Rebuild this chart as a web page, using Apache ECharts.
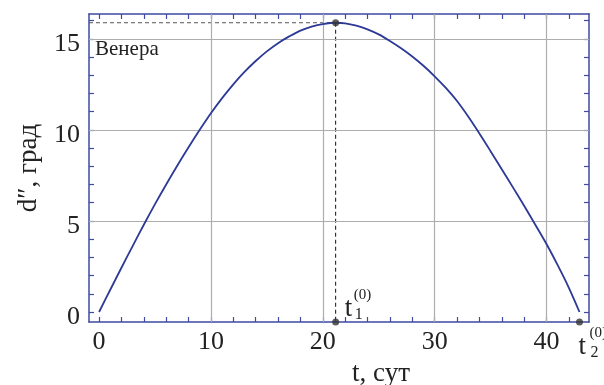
<!DOCTYPE html>
<html><head><meta charset="utf-8">
<script src="https://cdn.jsdelivr.net/npm/echarts@6/dist/echarts.min.js"></script>
<style>html,body{margin:0;padding:0;background:#fff}#c{width:604px;height:385px}</style>
</head><body><div id="c"></div>
<script>
// ---- data ----
const tDays = [0,1,2,3,4,5,6,7,8,9,10,11,12,13,14,15,16,17,18,19,20,21.15,22,23,24,25,26,27,28,29,30,31,32,33,34,35,36,37,38,39,40,41,42,42.95];
const dDeg  = [0,1.22,2.43,3.62,4.79,5.92,7.0,8.04,9.04,10.0,10.91,11.74,12.5,13.18,13.78,14.31,14.76,15.13,15.45,15.67,15.81,15.88,15.85,15.72,15.52,15.24,14.88,14.48,14.03,13.52,12.94,12.3,11.58,10.73,9.8,8.83,7.84,6.84,5.83,4.79,3.73,2.57,1.33,0];
const t1 = 21.15, dMax = 15.88, t2 = 42.95;
const xTickLabels = [0,10,20,30,40];
const xMinorTicks = [0,2,4,6,8,10,12,14,16,18,20,22,24,26,28,30,32,34,36,38,40,42];
const yTickLabels = [0,5,10,15];
const yMinorTicks = [0,1,2,3,4,5,6,7,8,9,10,11,12,13,14,15,16];
const xGridVals = [10,20,30,40];
const yGridVals = [5,10,15];
const xRange = [-0.9, 43.8];
const yRange = [-0.55, 16.36];
const seriesName = 'Венера';
const xName = 't, сут';
const yName = 'd\u2033, град';

// ---- chart ----
const FONT = '"Liberation Serif", "DejaVu Serif", serif';
const AXIS_BLUE = '#3e4aa3';
const CURVE = '#2c3996';
const GRID = '#adadad';
const chart = echarts.init(document.getElementById('c'), null, {renderer:'canvas'});

function xAxisDef(pos, show) {
  return {
    type:'value', position:pos, min:xRange[0], max:xRange[1],
    name: show ? xName : '', nameLocation:'middle', nameGap:38,
    nameTextStyle:{fontFamily:FONT, fontSize:27, color:'#222', padding:[0,0,0,84]},
    axisLine:{show:true, onZero:false, lineStyle:{color:AXIS_BLUE, width:1.5}},
    axisTick:{show:true, inside:true, length:5, customValues:xMinorTicks, lineStyle:{color:AXIS_BLUE, width:1.2}},
    axisLabel:{show:show, customValues:xTickLabels, margin:7, fontFamily:FONT, fontSize:26, color:'#222'},
    splitLine:{show:false}
  };
}
function yAxisDef(pos, show) {
  return {
    type:'value', position:pos, min:yRange[0], max:yRange[1],
    name: show ? yName : '', nameLocation:'middle', nameGap:47, nameRotate:90,
    nameTextStyle:{fontFamily:FONT, fontSize:27, color:'#222'},
    axisLine:{show:true, onZero:false, lineStyle:{color:AXIS_BLUE, width:1.5}},
    axisTick:{show:true, inside:true, length:5, customValues:yMinorTicks, lineStyle:{color:AXIS_BLUE, width:1.2}},
    axisLabel:{show:show, customValues:yTickLabels, margin:9, fontFamily:FONT, fontSize:26, color:'#222', verticalAlign:'top', lineHeight:10},
    splitLine:{show:false}
  };
}

const gridLines = xGridVals.map(v => ({xAxis:v})).concat(yGridVals.map(v => ({yAxis:v})));

chart.setOption({
  animation:false,
  backgroundColor:'#fff',
  grid:{left:89, top:14, right:15, bottom:63, containLabel:false, outerBoundsMode:'none'},
  xAxis:[xAxisDef('bottom', true), xAxisDef('top', false)],
  yAxis:[yAxisDef('left', true), yAxisDef('right', false)],
  series:[
    {
      type:'line', name:'grid', data:[], silent:true,
      markLine:{silent:true, symbol:['none','none'], label:{show:false},
        lineStyle:{color:GRID, width:1.2, type:'solid'}, data:gridLines, animation:false},
      z:1
    },
    {
      type:'line', name:seriesName, data:tDays.map((t,i)=>[t,dDeg[i]]),
      showSymbol:false, smooth:0.35, lineStyle:{color:CURVE, width:1.8}, z:5
    },
    {
      type:'line', data:[[xRange[0],dMax],[t1,dMax]], showSymbol:false,
      lineStyle:{color:'#555', width:1, type:[4,3]}, z:4
    },
    {
      type:'line', data:[[t1,dMax],[t1,yRange[0]]], showSymbol:false,
      lineStyle:{color:'#111', width:1, type:[4,3]}, z:4
    },
    {
      type:'scatter', data:[[t1,dMax],[t1,yRange[0]],[t2,yRange[0]]],
      symbol:'circle', symbolSize:7, itemStyle:{color:'#333'}, clip:false, z:10
    }
  ]
});

// annotations placed from data coordinates
const p1 = chart.convertToPixel({xAxisIndex:0, yAxisIndex:0}, [t1, yRange[0]]);
const p2 = chart.convertToPixel({xAxisIndex:0, yAxisIndex:0}, [t2, yRange[0]]);
const pv = chart.convertToPixel({xAxisIndex:0, yAxisIndex:0}, [xRange[0], yRange[1]]);
function txt(s, x, y, size) {
  return {type:'text', z:20, style:{text:s, x:x, y:y, font:size+'px '+FONT, fill:'#222', verticalAlign:'top', align:'left'}};
}
chart.setOption({
  graphic:[
    txt(seriesName, pv[0]+6, pv[1]+25, 21),
    txt('t', p1[0]+9, p1[1]-27, 27),
    txt('(0)', p1[0]+18, p1[1]-34, 15),
    txt('1', p1[0]+19, p1[1]-15, 16),
    txt('t', p2[0]-1, p2[1]+11, 27),
    txt('(0)', p2[0]+10, p2[1]+4, 15),
    txt('2', p2[0]+11, p2[1]+23, 16)
  ]
});
</script></body></html>
